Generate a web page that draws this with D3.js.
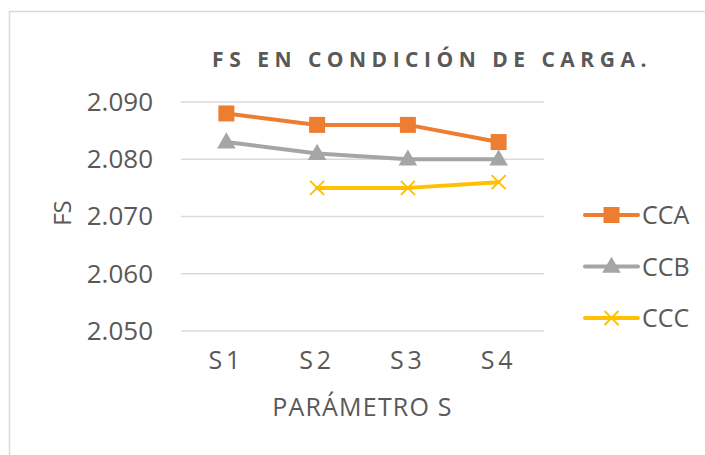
<!DOCTYPE html>
<html>
<head>
<meta charset="utf-8">
<script src="https://cdn.jsdelivr.net/npm/d3@7"></script>
<style>
  body { margin: 0; background: #fff; }
  text { font-family: "Open Sans", sans-serif; fill: #595959; }
</style>
</head>
<body>
<div id="line-chart"></div>
<script>
const categories = ['S1', 'S2', 'S3', 'S4'];
const ccaValues = [2.088, 2.086, 2.086, 2.083];
const ccbValues = [2.083, 2.081, 2.080, 2.080];
const cccValues = [null, 2.075, 2.075, 2.076];
const yTicks = [2.050, 2.060, 2.070, 2.080, 2.090];

const series = [
  { name: 'CCA', values: ccaValues, color: '#ED7D31', marker: 'square' },
  { name: 'CCB', values: ccbValues, color: '#A5A5A5', marker: 'triangle' },
  { name: 'CCC', values: cccValues, color: '#FFC000', marker: 'x' }
];

const width = 705;
const height = 455;
const margin = {top: 102, right: 161, bottom: 124, left: 181};

const svg = d3.select('#line-chart')
  .append('svg')
    .attr('width', width)
    .attr('height', height);

// chart frame (runs off the right and bottom edge)
svg.append('rect')
  .attr('x', 9.5)
  .attr('y', 11.5)
  .attr('width', 730)
  .attr('height', 470)
  .attr('fill', 'none')
  .attr('stroke', '#D9D9D9')
  .attr('stroke-width', 1.5);

const plot = svg.append('g')
  .attr('transform', `translate(${margin.left}, ${margin.top})`);

const innerW = width - margin.left - margin.right;
const innerH = height - margin.top - margin.bottom;

const xScale = d3.scaleBand()
  .domain(categories)
  .range([0, innerW]);
const yScale = d3.scaleLinear()
  .domain([2.050, 2.090])
  .range([innerH, 0]);

// gridlines
plot.append('g')
  .selectAll('line')
  .data(yTicks)
  .join('line')
    .attr('x1', 0)
    .attr('x2', innerW)
    .attr('y1', d => yScale(d))
    .attr('y2', d => yScale(d))
    .attr('stroke', '#D9D9D9')
    .attr('stroke-width', 1.5);

const yAxis = d3.axisLeft(yScale)
  .tickValues(yTicks)
  .tickFormat(d3.format('.3f'))
  .tickSize(0)
  .tickPadding(28);
const yG = plot.append('g').call(yAxis);
yG.select('.domain').remove();
yG.selectAll('text')
  .style('font-size', '26px')
  .attr('fill', '#595959');

const xAxis = d3.axisBottom(xScale)
  .tickSize(0)
  .tickPadding(20);
const xG = plot.append('g')
  .attr('transform', `translate(0, ${innerH})`)
  .call(xAxis);
xG.select('.domain').remove();
xG.selectAll('text')
  .style('font-size', '25px')
  .style('letter-spacing', '4px')
  .attr('fill', '#595959');

// title
svg.append('text')
  .attr('x', 432)
  .attr('y', 67)
  .style('text-anchor', 'middle')
  .style('font-size', '21px')
  .style('font-weight', 'bold')
  .style('letter-spacing', '5.5px')
  .text('FS EN CONDICIÓN DE CARGA.');

// axis titles
svg.append('text')
  .attr('x', margin.left + innerW / 2)
  .attr('y', 416)
  .style('text-anchor', 'middle')
  .style('font-size', '25px')
  .style('letter-spacing', '1.2px')
  .text('PARÁMETRO S');

svg.append('text')
  .attr('transform', 'rotate(-90)')
  .attr('x', -213)
  .attr('y', 71)
  .style('text-anchor', 'middle')
  .style('font-size', '24px')
  .text('FS');

const cx = c => xScale(c) + xScale.bandwidth() / 2;

function drawMarker(g, type, color) {
  if (type === 'square') {
    g.append('rect')
      .attr('x', -8).attr('y', -8)
      .attr('width', 16).attr('height', 16)
      .attr('fill', color);
  } else if (type === 'triangle') {
    g.append('path')
      .attr('d', d3.symbol(d3.symbolTriangle, 150)())
      .attr('transform', 'translate(0,1)')
      .attr('fill', color);
  } else {
    g.append('path')
      .attr('d', 'M-7,-7L7,7M-7,7L7,-7')
      .attr('stroke', color)
      .attr('stroke-width', 2)
      .attr('fill', 'none');
  }
}

series.forEach(s => {
  const pts = categories.map((c, i) => ({cat: c, v: s.values[i]}));
  const line = d3.line()
    .defined(d => d.v !== null)
    .x(d => cx(d.cat))
    .y(d => yScale(d.v));
  plot.append('path')
    .datum(pts)
    .attr('fill', 'none')
    .attr('stroke', s.color)
    .attr('stroke-width', 4)
    .attr('stroke-linejoin', 'round')
    .attr('stroke-linecap', 'round')
    .attr('d', line);
  pts.filter(d => d.v !== null).forEach(d => {
    const g = plot.append('g')
      .attr('transform', `translate(${cx(d.cat)}, ${yScale(d.v)})`);
    drawMarker(g, s.marker, s.color);
  });
});

// legend
const legend = svg.append('g').attr('transform', 'translate(585, 215)');
series.forEach((s, i) => {
  const g = legend.append('g').attr('transform', `translate(0, ${i * 51.5})`);
  g.append('line')
    .attr('x1', 0).attr('x2', 53)
    .attr('y1', 0).attr('y2', 0)
    .attr('stroke', s.color)
    .attr('stroke-width', 4)
    .attr('stroke-linecap', 'round');
  const m = g.append('g').attr('transform', 'translate(26.5, 0)');
  drawMarker(m, s.marker, s.color);
  g.append('text')
    .attr('x', 57)
    .attr('y', 9)
    .style('font-size', '25px')
    .text(s.name);
});
</script>
</body>
</html>
